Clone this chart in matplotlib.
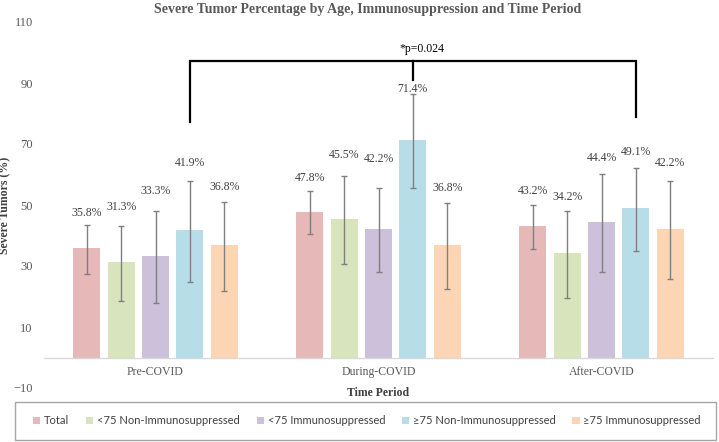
import matplotlib
matplotlib.use("Agg")
import matplotlib.pyplot as plt
from matplotlib.patches import Rectangle
import numpy as np

# ---- data ----
periods = ["Pre-COVID", "During-COVID", "After-COVID"]
series = ["Total", "<75 Non-Immunosuppressed", "<75 Immunosuppressed",
          "\u226575 Non-Immunosuppressed", "\u226575 Immunosuppressed"]
total = [35.8, 47.8, 43.2]
lt75_non = [31.3, 45.5, 34.2]
lt75_imm = [33.3, 42.2, 44.4]
ge75_non = [41.9, 71.4, 49.1]
ge75_imm = [36.8, 36.8, 42.2]

# CI bounds
lower_total = [27.4, 40.4, 35.5]
upper_total = [43.4, 54.6, 50.1]
lower_lt75_non = [18.6, 30.7, 19.6]
upper_lt75_non = [43.1, 59.5, 48.0]
lower_lt75_imm = [17.8, 27.9, 27.9]
upper_lt75_imm = [48.1, 55.7, 60.1]
lower_ge75_non = [24.9, 55.6, 35.0]
upper_ge75_non = [58.0, 86.3, 62.2]
lower_ge75_imm = [21.8, 22.4, 25.6]
upper_ge75_imm = [51.1, 50.6, 57.9]

# label heights (layout)
label_y = [
    [47.4, 58.8, 54.6],
    [49.3, 66.4, 52.7],
    [54.6, 65.1, 65.3],
    [63.8, 88.0, 67.5],
    [56.0, 55.5, 63.7],
]

p_text = "*p=0.024"
yticks = [-10, 10, 30, 50, 70, 90, 110]

values = [total, lt75_non, lt75_imm, ge75_non, ge75_imm]
lowers = [lower_total, lower_lt75_non, lower_lt75_imm, lower_ge75_non, lower_ge75_imm]
uppers = [upper_total, upper_lt75_non, upper_lt75_imm, upper_ge75_non, upper_ge75_imm]
colors = ["#E6B8B7", "#D8E4BC", "#CCC0DA", "#B7DEE8", "#FCD5B4"]

serif = ["Liberation Serif", "DejaVu Serif"]
txt_gray = "#595959"

fig = plt.figure(figsize=(7.19, 4.42), dpi=100)
ax = fig.add_axes([44/719, 1-388/442, 669/719, 366/442])

x = np.arange(len(periods))
step = 0.154
width = 0.121
for k, (vals, lo, hi, c) in enumerate(zip(values, lowers, uppers, colors)):
    pos = x + (k - 2) * step
    vals = np.array(vals)
    yerr = np.vstack([vals - np.array(lo), np.array(hi) - vals])
    ax.bar(pos, vals, width, color=c, label=series[k], zorder=2)
    ax.errorbar(pos, vals, yerr=yerr, fmt="none", ecolor="#7f7f7f",
                elinewidth=1.0, capsize=2.5, capthick=1.0, zorder=3)
    for j in range(len(periods)):
        ax.text(pos[j], label_y[k][j], f"{vals[j]:.1f}%", ha="center", va="center",
                fontsize=8.5, family=serif, color="#404040", zorder=4)

# significance bracket between >=75 non-immunosuppressed bars
xl = x[0] + 1 * step
xm = x[1] + 1 * step
xr = x[2] + 1 * step
yb = 97.2
ax.plot([xl, xl, xr, xr], [77.2, yb, yb, 79.0], color="black", lw=1.6,
        solid_joinstyle="miter", zorder=5)
ax.plot([xm, xm], [yb, 91.0], color="black", lw=1.6, zorder=5)
ax.text(xm + 0.04, 101.2, p_text, ha="center", va="center", fontsize=8.5,
        family=serif, color="black")

ax.set_xlim(-0.5, 2.5)
ax.set_ylim(-10, 110)
ax.set_yticks(yticks)
ax.set_xticks(x)
ax.set_xticklabels(periods)
for s in ["top", "right", "left"]:
    ax.spines[s].set_visible(False)
ax.spines["bottom"].set_position(("data", 0))
ax.spines["bottom"].set_color("#d9d9d9")
ax.spines["bottom"].set_linewidth(1.0)
ax.tick_params(axis="both", length=0)
ax.tick_params(axis="y", pad=8, labelsize=9, labelcolor=txt_gray)
ax.tick_params(axis="x", pad=6, labelsize=8.5, labelcolor=txt_gray)
for lab in ax.get_xticklabels() + ax.get_yticklabels():
    lab.set_family(serif)

ax.set_ylabel("Severe Tumors (%)", family=serif, fontsize=8.5, fontweight="bold",
              color="#404040")
ax.yaxis.set_label_coords(-0.049, 0.5)
ax.text(0.5, -0.014, "Time Period", transform=ax.transAxes, ha="center", va="center",
        family=serif, fontsize=8.5, fontweight="bold", color="#404040")

fig.text(368/719, 1-9/442,
         "Severe Tumor Percentage by Age, Immunosuppression and Time Period",
         ha="center", va="center", family=serif, fontsize=10, fontweight="bold",
         color=txt_gray)

# legend box
fig.patches.append(Rectangle((15/719, 2/442), 701/719, 38/442, transform=fig.transFigure,
                             fill=False, edgecolor="#a6a6a6", linewidth=1.0))
leg = fig.legend(loc="center", ncol=5, bbox_to_anchor=(367/719, 21/442),
                 frameon=False,
                 handlelength=0.65, handleheight=0.65, handletextpad=0.35,
                 columnspacing=1.5, borderaxespad=0,
                 prop={"family": ["Lato", "DejaVu Sans"], "size": 8})
for t in leg.get_texts():
    t.set_color("#404040")

fig.savefig("out.png", dpi=100)
